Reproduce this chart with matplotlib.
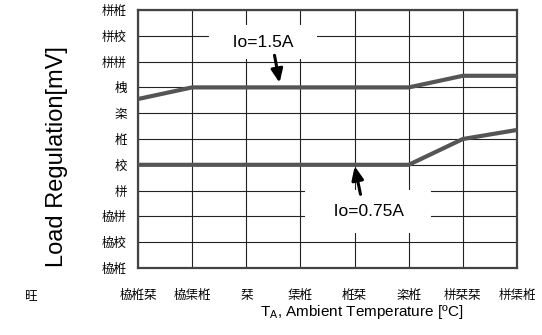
import matplotlib
matplotlib.use("Agg")
import matplotlib.pyplot as plt

plt.rcParams['font.family'] = ['Liberation Sans', 'Noto Sans CJK SC', 'DejaVu Sans']

# temperature points [degC] and load regulation [mV]
temp = [-50, -25, 0, 25, 50, 75, 100, 125]
reg_15A = [8.1, 9.0, 9.0, 9.0, 9.0, 9.0, 9.9, 9.9]
reg_075A = [3.0, 3.0, 3.0, 3.0, 3.0, 3.0, 5.0, 5.7]

# tick labels exactly as they appear in the source (garbled glyphs)
x_ticks = [-50, -25, 0, 25, 50, 75, 100, 125]
x_tick_labels = ["栛栣栞", "栛栠栣", "栞", "栠栣", "栣栞", "栥栣", "栟栞栞", "栟栠栣"]
y_ticks = [15, 13, 11, 9, 7, 5, 3, 1, -1, -3, -5]
y_tick_labels = ["栟栣", "栟校", "栟栟", "栧", "栥", "栣", "校", "栟", "栛栟", "栛校", "栛栣"]

fig = plt.figure(figsize=(5.42, 3.35), dpi=100)
ax = fig.add_axes([138 / 542, 1 - 268 / 335, 379 / 542, 258 / 335])

ax.plot(temp, reg_15A, color='#555555', lw=3, solid_capstyle='butt', zorder=3)
ax.plot(temp, reg_075A, color='#555555', lw=3, solid_capstyle='butt', zorder=3)

ax.set_xlim(-50, 125)
ax.set_ylim(-5, 15)
ax.set_xticks(x_ticks)
ax.set_yticks(y_ticks)
ax.set_xticklabels(x_tick_labels, family=['Noto Sans CJK SC'], fontsize=9)
ax.set_yticklabels(y_tick_labels, family=['Noto Sans CJK SC'], fontsize=9)
ax.tick_params(axis='y', length=0, pad=8)
ax.tick_params(axis='x', length=0, pad=15)
ax.grid(True, color='#222222', lw=0.8, zorder=1)
for s in ax.spines.values():
    s.set_color('#444444')
    s.set_linewidth(1.6)

ax.text(7.7, 12.5, "   Io=1.5A   ", fontsize=12.5, ha='center', va='center',
        bbox=dict(boxstyle='square,pad=0.55', fc='white', ec='none'), zorder=4)
ax.annotate("", xy=(15.6, 9.15), xytext=(12.8, 11.7),
            arrowprops=dict(arrowstyle='-|>,head_width=0.35,head_length=0.8',
                            color='black', lw=2.2), zorder=5)
ax.text(56.2, -0.65, "   Io=0.75A   ", fontsize=12.5, ha='center', va='center',
        bbox=dict(boxstyle='square,pad=0.8', fc='white', ec='none'), zorder=4)
ax.annotate("", xy=(49.8, 3.1), xytext=(53.0, 0.5),
            arrowprops=dict(arrowstyle='-|>,head_width=0.35,head_length=0.8',
                            color='black', lw=2.2), zorder=5)

ax.set_xlabel("T$_\\mathregular{A}$, Ambient Temperature [ºC]", fontsize=11, labelpad=3)
ax.xaxis.set_label_coords(0.59, -0.135)
ax.set_ylabel("Load Regulation[mV]", fontsize=17)
ax.yaxis.set_label_coords(-0.185, 0.43)

fig.text(30 / 542, 1 - 297 / 335, "旺", family=['Noto Sans CJK SC'], fontsize=9,
         ha='center', va='center')

fig.savefig("out.png", dpi=100)
